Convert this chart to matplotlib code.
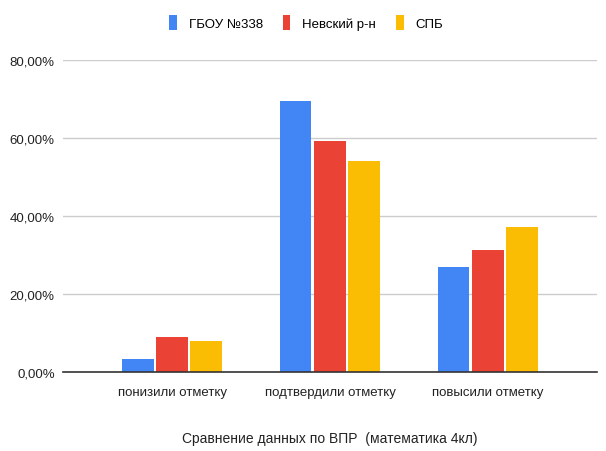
import matplotlib.pyplot as plt
import numpy as np
from matplotlib.ticker import FuncFormatter

plt.rcParams['font.family'] = ['Liberation Sans', 'DejaVu Sans']

categories = ["понизили отметку", "подтвердили отметку", "повысили отметку"]
series_names = ["ГБОУ №338", "Невский р-н", "СПБ"]
school = [3.3, 69.4, 26.9]
district = [9.0, 59.3, 31.3]
city = [7.8, 54.0, 37.1]
colors = ["#4285F4", "#EA4335", "#FBBC04"]

fig = plt.figure(figsize=(6.06, 4.52), dpi=100)
ax = fig.add_axes([0.104, 0.175, 0.881, 0.69])

x = np.arange(len(categories))
width = 0.198
step = 0.216
for i, (vals, name, c) in enumerate(zip([school, district, city], series_names, colors)):
    ax.bar(x + (i - 1) * step, vals, width, color=c, label=name, zorder=3)

ax.set_xlim(-0.69, 2.69)
ax.set_ylim(0, 80)
ax.set_yticks([0, 20, 40, 60, 80])
ax.yaxis.set_major_formatter(FuncFormatter(lambda v, p: f"{v:.2f}%".replace(".", ",")))
ax.set_xticks(x)
ax.set_xticklabels(categories)
ax.grid(axis='y', color='#cccccc', linewidth=1, zorder=0)
for s in ['top', 'right', 'left']:
    ax.spines[s].set_visible(False)
ax.spines['bottom'].set_color('#333333')
ax.spines['bottom'].set_linewidth(1.2)
ax.spines['bottom'].set_zorder(4)
ax.tick_params(axis='both', length=0, labelsize=9.5, colors='#222222', pad=6)
ax.tick_params(axis='x', pad=10)
ax.set_xlabel("Сравнение данных по ВПР  (математика 4кл)", fontsize=10, color='#222222', labelpad=24)

fig.legend(loc='upper center', bbox_to_anchor=(0.505, 0.99), ncol=3, frameon=False,
           fontsize=9.5, handlelength=0.6, handleheight=1.3, handletextpad=0.9, columnspacing=1.5)

fig.savefig("out.png", dpi=100, facecolor='white')
